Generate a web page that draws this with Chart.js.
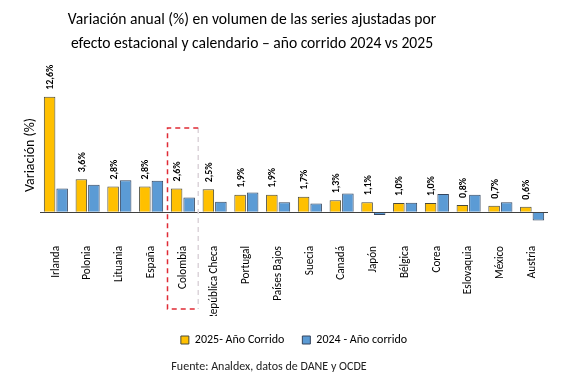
<!DOCTYPE html>
<html>
<head>
<meta charset="utf-8">
<script src="https://cdn.jsdelivr.net/npm/chart.js@4/dist/chart.umd.min.js"></script>
<style>
  html, body { margin: 0; padding: 0; background: #ffffff; }
  #wrap { width: 563px; height: 388px; position: relative; }
</style>
</head>
<body>
<div id="wrap"><canvas id="c" width="563" height="388"></canvas></div>
<script>
const categories = ['Irlanda', 'Polonia', 'Lituania', 'España', 'Colombia', 'República Checa', 'Portugal', 'Países Bajos', 'Suecia', 'Canadá', 'Japón', 'Bélgica', 'Corea', 'Eslovaquia', 'México', 'Austria'];
const values2025 = [12.6, 3.6, 2.8, 2.8, 2.6, 2.5, 1.9, 1.9, 1.7, 1.3, 1.1, 1.0, 1.0, 0.8, 0.7, 0.6];
const values2024 = [2.6, 3.0, 3.5, 3.45, 1.6, 1.15, 2.15, 1.1, 0.95, 2.05, -0.3, 1.05, 2.0, 1.9, 1.1, -0.9];
const labels2025 = ['12,6%', '3,6%', '2,8%', '2,8%', '2,6%', '2,5%', '1,9%', '1,9%', '1,7%', '1,3%', '1,1%', '1,0%', '1,0%', '0,8%', '0,7%', '0,6%'];
const seriesNames = ['2025- Año Corrido', '2024 - Año corrido'];
const titleLines = ['Variación anual (%) en volumen de las series ajustadas por', 'efecto estacional y calendario – año corrido 2024 vs 2025'];
const sourceText = 'Fuente: Analdex, datos de DANE y OCDE';
const highlightCategory = 'Colombia';
const highlightTopValue = 9.2;

const FONT = "Carlito, Calibri, Lato, sans-serif";

const dataLabelPlugin = {
  id: 'dataLabels',
  afterDatasetsDraw(chart) {
    const meta = chart.getDatasetMeta(0);
    const ctx = chart.ctx;
    ctx.save();
    ctx.font = 'bold 10px ' + FONT;
    ctx.fillStyle = '#000';
    ctx.textAlign = 'left';
    ctx.textBaseline = 'middle';
    meta.data.forEach((bar, i) => {
      ctx.save();
      ctx.translate(bar.x + 1, bar.y - 7);
      ctx.rotate(-Math.PI / 2);
      ctx.fillText(labels2025[i], 0, 0);
      ctx.restore();
    });
    ctx.restore();
  }
};

const textPlugin = {
  id: 'texts',
  afterDraw(chart) {
    const ctx = chart.ctx;
    ctx.save();
    ctx.fillStyle = '#000';
    ctx.textAlign = 'center';
    ctx.textBaseline = 'middle';
    ctx.font = '15.6px ' + FONT;
    ctx.fillText(titleLines[0], 252, 20);
    ctx.fillText(titleLines[1], 252, 44);
    ctx.fillStyle = '#222';
    ctx.font = '12px ' + FONT;
    ctx.fillText(sourceText, 269, 367);
    ctx.restore();
  }
};

const highlightPlugin = {
  id: 'highlight',
  afterDraw(chart) {
    const xs = chart.scales.x, ys = chart.scales.y;
    const idx = categories.indexOf(highlightCategory);
    const cx = xs.getPixelForValue(idx);
    const half = xs.width / categories.length / 2;
    const left = cx - half + 0.5, right = cx + half - 0.5;
    const top = ys.getPixelForValue(highlightTopValue);
    const bottom = chart.chartArea.bottom + 83;
    const ctx = chart.ctx;
    ctx.save();
    ctx.lineWidth = 1.5;
    ctx.setLineDash([5, 4]);
    ctx.strokeStyle = '#dcd4da';
    ctx.beginPath();
    ctx.moveTo(right, top);
    ctx.lineTo(right, bottom);
    ctx.stroke();
    ctx.strokeStyle = '#e02b35';
    ctx.beginPath();
    ctx.moveTo(right, top);
    ctx.lineTo(left, top);
    ctx.lineTo(left, bottom);
    ctx.lineTo(right, bottom);
    ctx.stroke();
    ctx.restore();
  }
};

new Chart(document.getElementById('c'), {
  type: 'bar',
  data: {
    labels: categories,
    datasets: [
      { label: seriesNames[0], data: values2025, backgroundColor: '#FFC000', borderColor: '#4a4a3a', borderWidth: 1, barPercentage: 0.92, categoryPercentage: 0.79 },
      { label: seriesNames[1], data: values2024, backgroundColor: '#5B9BD5', borderColor: '#34455e', borderWidth: 1, barPercentage: 0.92, categoryPercentage: 0.79 }
    ]
  },
  options: {
    responsive: false,
    animation: false,
    devicePixelRatio: 1,
    layout: { padding: { top: 84, left: 20.2, right: 15, bottom: 32 } },
    plugins: {
      title: { display: false },
      legend: {
        position: 'bottom',
        fullSize: false,
        labels: {
          color: '#000',
          font: { family: FONT, size: 12 },
          boxWidth: 8,
          boxHeight: 8,
          padding: 18
        }
      },
      tooltip: { enabled: false }
    },
    scales: {
      x: {
        grid: { display: false },
        border: { display: false },
        ticks: { color: '#000', font: { family: FONT, size: 11.2 }, minRotation: 90, maxRotation: 90, autoSkip: false, padding: 12 },
        afterFit(scale) { scale.height = 90; }
      },
      y: {
        min: -1.5,
        max: 14,
        border: { display: false },
        grid: { drawTicks: false, color: (c) => c.tick && c.tick.value === 0 ? '#404040' : 'rgba(0,0,0,0)', lineWidth: 1 },
        ticks: { display: false, stepSize: 0.5 },
        title: { display: true, text: 'Variación (%)', color: '#000', font: { family: FONT, size: 14 }, padding: { top: 2, bottom: 1 } }
      }
    }
  },
  plugins: [dataLabelPlugin, textPlugin, highlightPlugin]
});
</script>
</body>
</html>
